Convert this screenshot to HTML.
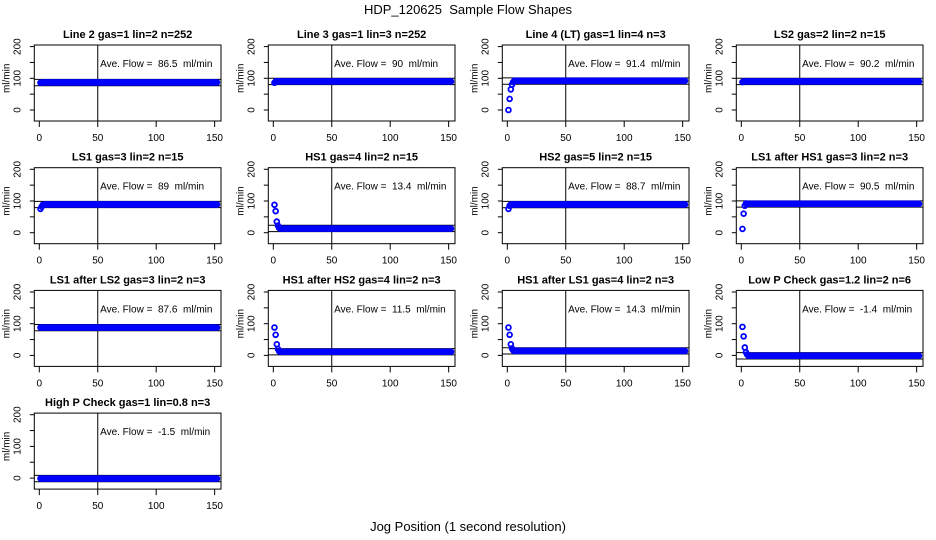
<!DOCTYPE html>
<html><head><meta charset="utf-8"><style>
body{margin:0;background:#fff;}
svg{display:block;font-family:"Liberation Sans",Arial,sans-serif;}
text{white-space:pre;}
</style></head><body>
<svg id="chart" width="936" height="540" viewBox="0 0 936 540" xmlns="http://www.w3.org/2000/svg">
<text x="468" y="14" text-anchor="middle" font-size="13">HDP_120625  Sample Flow Shapes</text>
<text x="468" y="531" text-anchor="middle" font-size="13">Jog Position (1 second resolution)</text>
</svg>
<script>
const titles = ["Line 2 gas=1 lin=2 n=252","Line 3 gas=1 lin=3 n=252","Line 4 (LT) gas=1 lin=4 n=3","LS2 gas=2 lin=2 n=15",
"LS1 gas=3 lin=2 n=15","HS1 gas=4 lin=2 n=15","HS2 gas=5 lin=2 n=15","LS1 after HS1 gas=3 lin=2 n=3",
"LS1 after LS2 gas=3 lin=2 n=3","HS1 after HS2 gas=4 lin=2 n=3","HS1 after LS1 gas=4 lin=2 n=3","Low P Check gas=1.2 lin=2 n=6",
"High P Check gas=1 lin=0.8 n=3"];
const aveFlows = [86.5,90,91.4,90.2,89,13.4,88.7,90.5,87.6,11.5,14.3,-1.4,-1.5];
const transients = [[86],[86],[0,35,65,80,88],[88],[75,82,88],[88,68,35,22,15],[75,85,89],[12,60,85,92],[88],[88,65,35,20,13],[88,65,35,22,16],[90,60,25,10,3],[-1]];
const steadyLevels = [87,90,92,90,89,13,89,91,88,11.5,14,-1,-1.5];
const nPoints = 152;
const xTicks = [0,50,100,150];
const yTicks = [0,100,200];

const svg = document.getElementById('chart');
const NS = 'http://www.w3.org/2000/svg';
function mk(tag, attrs, parent){const e=document.createElementNS(NS,tag);for(const k in attrs)e.setAttribute(k,attrs[k]);(parent||svg).appendChild(e);return e;}

titles.forEach((t,i)=>{
  const col=i%4,row=Math.floor(i/4);
  const L=34.3+234*col, T=45+122.7*row, W=186.7, H=76;
  const sx=v=>L+5+v*1.169;
  const sy=v=>T+65-v*0.317;
  const g=mk('g',{});
  
  
  const tt=mk('text',{x:L+W/2,y:T-7,'text-anchor':'middle','font-size':11,'font-weight':'bold'},g);
  tt.textContent=t;
  
  
  const ya=mk('g',{},g);
  
  
  for(let v=0;v<=200;v+=50) mk('line',{x1:L-4.5,x2:L,y1:sy(v),y2:sy(v),stroke:'#000'},ya);
  yTicks.forEach(v=>{const tx=mk('text',{x:0,y:0,'font-size':10,'text-anchor':'middle',transform:`translate(${L-14},${sy(v)}) rotate(-90)`},ya);tx.textContent=v;
    
    });
  const yl=mk('text',{x:0,y:0,'font-size':10,'text-anchor':'middle',transform:`translate(${L-25},${sy(100)}) rotate(-90)`},g);
  yl.textContent='ml/min';
  
  
  const xa=mk('g',{},g);
  
  
  xTicks.forEach(v=>{mk('line',{x1:sx(v),x2:sx(v),y1:T+H,y2:T+H+6,stroke:'#000'},xa);
    const tx=mk('text',{x:sx(v),y:T+H+20,'font-size':10,'text-anchor':'middle'},xa);tx.textContent=v;
    
    });
  const bx=mk('rect',{x:L,y:T,width:W,height:H,fill:'none',stroke:'#000'},g);
  
  
  mk('line',{x1:sx(50),x2:sx(50),y1:T,y2:T+H,stroke:'#000'},g);
  const m=aveFlows[i];
  mk('line',{x1:L,x2:L+W,y1:sy(m+10),y2:sy(m+10),stroke:'#000'},g);
  mk('line',{x1:L,x2:L+W,y1:sy(m-10),y2:sy(m-10),stroke:'#000'},g);
  const pts=mk('g',{fill:'none',stroke:'#0000ff','stroke-width':1.8},g);
  
  
  for(let k=1;k<=nPoints;k++){
    const v = k<=transients[i].length ? transients[i][k-1] : steadyLevels[i];
    const c=mk('circle',{cx:sx(k),cy:sy(v),r:2.4},pts);
    
    
  }
  const at=mk('text',{x:sx(52),y:T+22,'font-size':10},g);
  at.textContent='Ave. Flow =  '+m+'  ml/min';
  
  
});
</script>
</body></html>
